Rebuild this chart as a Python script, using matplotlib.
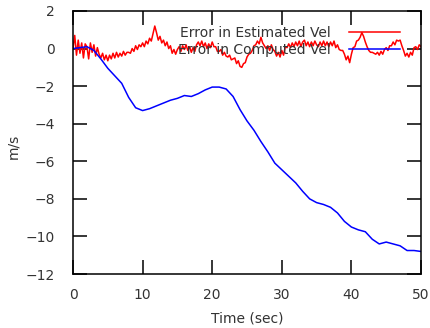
import numpy as np
import matplotlib
matplotlib.use("Agg")
import matplotlib.pyplot as plt

# Error in Estimated Vel (sampled every 0.25 s, 0..50 s)
red_vals = [
    0.0, 0.7, -0.35, 0.45,
    -0.25, 0.3, -0.5, 0.25,
    0.1, -0.55, 0.3, -0.2,
    0.2, -0.4, 0.05, -0.3,
    -0.5, -0.25, -0.6, -0.35,
    -0.65, -0.35, -0.55, -0.25,
    -0.5, -0.2, -0.45, -0.25,
    -0.4, -0.15, -0.35, -0.2,
    -0.2, -0.25, 0.0, -0.15,
    0.15, -0.05, 0.2, 0.1,
    0.3, 0.1, 0.4, 0.25,
    0.55, 0.4, 0.8, 1.2,
    0.85, 0.45, 0.65, 0.3,
    0.45, 0.15, 0.35, 0.0,
    0.15, -0.25, -0.05, -0.3,
    -0.05, 0.1, -0.15, 0.15,
    -0.05, 0.2, -0.1, 0.1,
    -0.2, 0.05, -0.15, 0.2,
    0.35, 0.15, 0.4, 0.1,
    0.3, 0.0, 0.25, 0.05,
    0.35, 0.1, 0.1, -0.15,
    -0.15, -0.05, -0.35, -0.2,
    -0.4, -0.45, -0.35, -0.6,
    -0.55, -0.5, -0.8, -0.65,
    -0.95, -1.0, -0.8, -0.75,
    -0.45, -0.3, -0.25, -0.1,
    0.15, 0.2, 0.4, 0.25,
    0.6, 0.3, 0.15, 0.0,
    0.15, -0.1, 0.2, -0.05,
    -0.15, -0.4, -0.2, -0.45,
    -0.1, -0.35, 0.1, 0.05,
    0.25, 0.05, 0.3, 0.1,
    0.35, 0.15, 0.4, 0.1,
    0.35, 0.45, 0.15, 0.35,
    0.1, 0.35, 0.15, 0.4,
    0.2, 0.1, 0.35, 0.15,
    0.4, 0.15, 0.35, 0.1,
    0.35, 0.15, 0.4, 0.05,
    0.2, -0.05, -0.1, -0.1,
    -0.3, -0.6, -0.4, -0.75,
    -0.3, 0.05, 0.1, 0.4,
    0.45, 0.6, 0.85, 0.65,
    0.35, 0.1, -0.1, -0.2,
    -0.2, -0.25, -0.3, -0.2,
    -0.35, -0.15, -0.3, -0.05,
    0.05, -0.1, 0.15, 0.15,
    0.35, 0.2, 0.45, 0.4,
    0.45, 0.15, -0.1, -0.4,
    -0.25, -0.45, -0.2, -0.35,
    0.05, 0.1, -0.05, 0.2,
    0.1,
]
red_t = np.arange(len(red_vals)) * 0.25

# Error in Computed Vel (sampled every 1 s, 0..50 s)
blue_vals = [
    0.0, 0.05, 0.1, -0.1, -0.55, -1.05, -1.45, -1.85, -2.6, -3.15,
    -3.3, -3.2, -3.05, -2.9, -2.75, -2.65, -2.5, -2.55, -2.4, -2.2,
    -2.05, -2.05, -2.15, -2.55, -3.25, -3.85, -4.35, -4.95, -5.5, -6.1,
    -6.45, -6.8, -7.15, -7.6, -8.0, -8.2, -8.3, -8.45, -8.75, -9.2,
    -9.5, -9.65, -9.75, -10.15, -10.4, -10.3, -10.4, -10.5, -10.75, -10.75,
    -10.8,
]
blue_t = np.arange(len(blue_vals)) * 1.0

xticks = [0, 10, 20, 30, 40, 50]
yticks = [-12, -10, -8, -6, -4, -2, 0, 2]

txt = "#333333"
fs = 10

fig = plt.figure(figsize=(4.31, 3.28), dpi=100)
ax = fig.add_axes([73/431, 54/328, 348/431, 263/328])

ax.plot(red_t, red_vals, color="#ff0000", lw=1.1, label="Error in Estimated Vel")
ax.plot(blue_t, blue_vals, color="#0000ff", lw=1.1, label="Error in Computed Vel")

ax.set_xlim(0, 50)
ax.set_ylim(-12, 2)
ax.set_xticks(xticks)
ax.set_yticks(yticks)
ax.tick_params(direction="in", length=10, width=1.1, top=True, right=True,
               labelsize=fs, labelcolor=txt, color="black")
ax.tick_params(axis="y", pad=13)
ax.tick_params(axis="x", pad=10)
for s in ax.spines.values():
    s.set_linewidth(1.1)
    s.set_color("black")

ax.set_xlabel("Time (sec)", fontsize=fs, color=txt)
ax.set_ylabel("m/s", fontsize=fs, color=txt)
ax.xaxis.set_label_coords((247 - 73) / 348, -(312 - 274) / 263)
ax.yaxis.set_label_coords(-(73 - 20) / 348, (274 - 146) / 263)

ax.legend(loc="upper right", bbox_to_anchor=(0.94, 0.944), frameon=False,
          markerfirst=False, fontsize=fs, handlelength=3.7, handletextpad=1.3,
          labelspacing=0.25, borderaxespad=0, borderpad=0, labelcolor=txt)

fig.savefig("out.png", dpi=100)
